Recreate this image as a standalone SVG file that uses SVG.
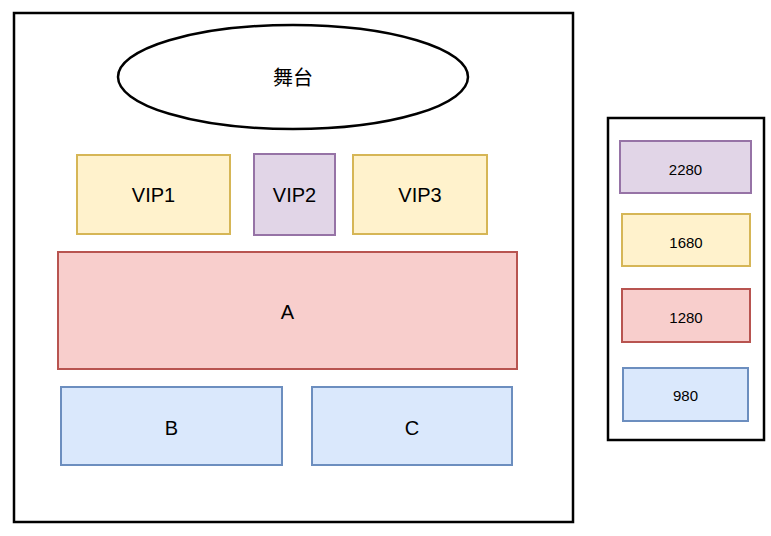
<svg xmlns="http://www.w3.org/2000/svg" width="771" height="536" viewBox="0 0 771 536">
<style>
text{font-family:"Liberation Sans",Arial,"Noto Sans CJK SC",sans-serif;fill:#000;text-anchor:middle;dominant-baseline:central}
.big{font-size:20px}
.sm{font-size:15px}
.frame{fill:#fff;stroke:#000;stroke-width:2.5}
.y{fill:#fff2cc;stroke:#d6b656;stroke-width:2}
.p{fill:#e1d5e7;stroke:#9673a6;stroke-width:2}
.r{fill:#f8cecc;stroke:#b85450;stroke-width:2}
.b{fill:#dae8fc;stroke:#6c8ebf;stroke-width:2}
</style>
<rect width="771" height="536" fill="#fff"/>
<g id="venue"><rect class="frame" x="14" y="13" width="559" height="509"/></g>
<g id="legend"><rect class="frame" x="608" y="118" width="156" height="322"/></g>
<g id="stage"><ellipse cx="293" cy="77" rx="175" ry="52" fill="#fff" stroke="#000" stroke-width="2.5"/><text class="big" x="293" y="78">舞台</text></g>
<g id="vip1"><rect class="y" x="77" y="155" width="153" height="79"/><text class="big" x="153.5" y="195">VIP1</text></g>
<g id="vip2"><rect class="p" x="254" y="154" width="81" height="81"/><text class="big" x="294.5" y="195">VIP2</text></g>
<g id="vip3"><rect class="y" x="353" y="155" width="134" height="79"/><text class="big" x="420" y="195">VIP3</text></g>
<g id="a"><rect class="r" x="58" y="252" width="459" height="117"/><text class="big" x="287.5" y="312">A</text></g>
<g id="b"><rect class="b" x="61" y="387" width="221" height="78"/><text class="big" x="171.5" y="428">B</text></g>
<g id="c"><rect class="b" x="312" y="387" width="200" height="78"/><text class="big" x="412" y="428">C</text></g>
<g id="l2280"><rect class="p" x="620" y="141" width="131" height="52"/><text class="sm" x="685.5" y="169">2280</text></g>
<g id="l1680"><rect class="y" x="622" y="214" width="128" height="52"/><text class="sm" x="686" y="242">1680</text></g>
<g id="l1280"><rect class="r" x="622" y="289" width="128" height="53"/><text class="sm" x="686" y="317">1280</text></g>
<g id="l980"><rect class="b" x="623" y="368" width="125" height="53"/><text class="sm" x="685.5" y="395">980</text></g>
<g id="connectors"></g>
</svg>
